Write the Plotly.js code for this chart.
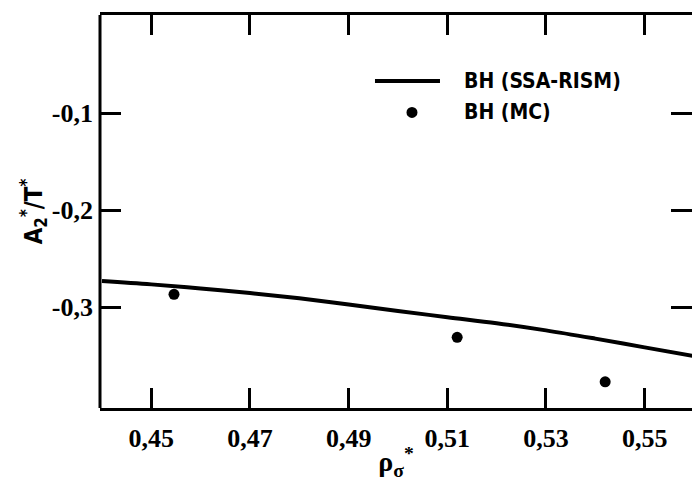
<!DOCTYPE html>
<html>
<head>
<meta charset="utf-8">
<script src="https://cdn.plot.ly/plotly-3.0.1.min.js"></script>
<style>
  html, body { margin: 0; padding: 0; background: #fff; }
  #chart { width: 692px; height: 484px; }
</style>
</head>
<body>
<div id="chart"></div>
<script>
// BH (SSA-RISM) theory curve
const rhoTheory = [0.44, 0.45, 0.46, 0.47, 0.48, 0.49, 0.50, 0.51, 0.52, 0.53, 0.54, 0.55, 0.56];
const a2Theory  = [-0.2731, -0.2766, -0.2809, -0.2855, -0.2910, -0.2974, -0.3040, -0.3104, -0.3166, -0.3240, -0.3325, -0.3415, -0.3505];

// BH (MC) simulation points
const rhoMC = [0.4546, 0.5120, 0.5420];
const a2MC  = [-0.2869, -0.3312, -0.3770];

// tick positions and labels (comma decimals)
const xTickVals = [0.45, 0.47, 0.49, 0.51, 0.53, 0.55];
const xTickText = ['0,45', '0,47', '0,49', '0,51', '0,53', '0,55'];
const yTickVals = [-0.1, -0.2, -0.3];
const yTickText = ['-0,1', '-0,2', '-0,3'];

const legendNames = ['BH (SSA-RISM)', 'BH (MC)'];

const INK = '#000';
const narrow = 'Liberation Sans Narrow';
const cond = 'DejaVu Sans Condensed';

const traces = [
  {
    x: rhoTheory, y: a2Theory, name: legendNames[0],
    mode: 'lines', line: { color: INK, width: 4, shape: 'spline' },
    showlegend: false, hoverinfo: 'skip'
  },
  {
    x: rhoMC, y: a2MC, name: legendNames[1],
    mode: 'markers', marker: { color: INK, size: 11 },
    showlegend: false, hoverinfo: 'skip'
  }
];

// key in the upper right of the plot
const keyLineY = 0.832, keyDotY = 0.752, keyTextX = 0.6115;

const layout = {
  width: 692, height: 484,
  margin: { l: 100, r: 0, t: 15, b: 76 },
  paper_bgcolor: '#fff', plot_bgcolor: '#fff',
  separators: ',.',
  font: { family: narrow, size: 20, color: INK, weight: 700 },
  xaxis: {
    range: [0.4396, 0.5596],
    tickvals: xTickVals, ticktext: xTickText,
    ticks: 'inside', ticklen: 20, tickwidth: 2.5, tickcolor: INK,
    showline: true, linewidth: 3, linecolor: INK, mirror: 'ticks',
    showgrid: false, zeroline: false,
    tickfont: { family: narrow, size: 26, color: INK, weight: 700 },
    ticklabelstandoff: 5,
    title: { text: 'ρ<sub>σ</sub><sup>*</sup>', font: { family: narrow, size: 28, color: INK, weight: 700 }, standoff: 0 },
    automargin: false, fixedrange: true
  },
  yaxis: {
    range: [-0.404, 0.001],
    tickvals: yTickVals, ticktext: yTickText,
    ticks: 'inside', ticklen: 21, tickwidth: 2.5, tickcolor: INK,
    showline: false, mirror: 'ticks',
    showgrid: false, zeroline: false,
    tickfont: { family: narrow, size: 26, color: INK, weight: 700 },
    ticklabelstandoff: 6,
    title: { text: 'A<sub>2</sub><sup>*</sup>/T<sup>*</sup>', font: { family: cond, size: 24, color: INK, weight: 700 }, standoff: 2 },
    automargin: false, fixedrange: true
  },
  shapes: [
    // left frame edge (right edge stays open)
    { type: 'line', xref: 'paper', yref: 'paper', x0: 0, x1: 0, y0: 0, y1: 1,
      line: { color: INK, width: 3 }, layer: 'above' },
    // key: line sample
    { type: 'line', xref: 'paper', yref: 'paper', x0: 0.4645, x1: 0.5743, y0: keyLineY, y1: keyLineY,
      line: { color: INK, width: 4 } },
    // key: dot sample
    { type: 'circle', xref: 'paper', yref: 'paper', xsizemode: 'pixel', ysizemode: 'pixel',
      xanchor: 0.527, yanchor: keyDotY, x0: -5.5, x1: 5.5, y0: -5.5, y1: 5.5,
      fillcolor: INK, line: { color: INK, width: 0 } }
  ],
  annotations: [
    { xref: 'paper', yref: 'paper', x: keyTextX, y: keyLineY, xanchor: 'left', yanchor: 'middle',
      text: legendNames[0], showarrow: false, font: { family: cond, size: 21, color: INK, weight: 700 } },
    { xref: 'paper', yref: 'paper', x: keyTextX, y: keyDotY, xanchor: 'left', yanchor: 'middle',
      text: legendNames[1], showarrow: false, font: { family: cond, size: 21, color: INK, weight: 700 } }
  ],
  showlegend: false
};

Plotly.newPlot('chart', traces, layout, { displayModeBar: false });
</script>
</body>
</html>
